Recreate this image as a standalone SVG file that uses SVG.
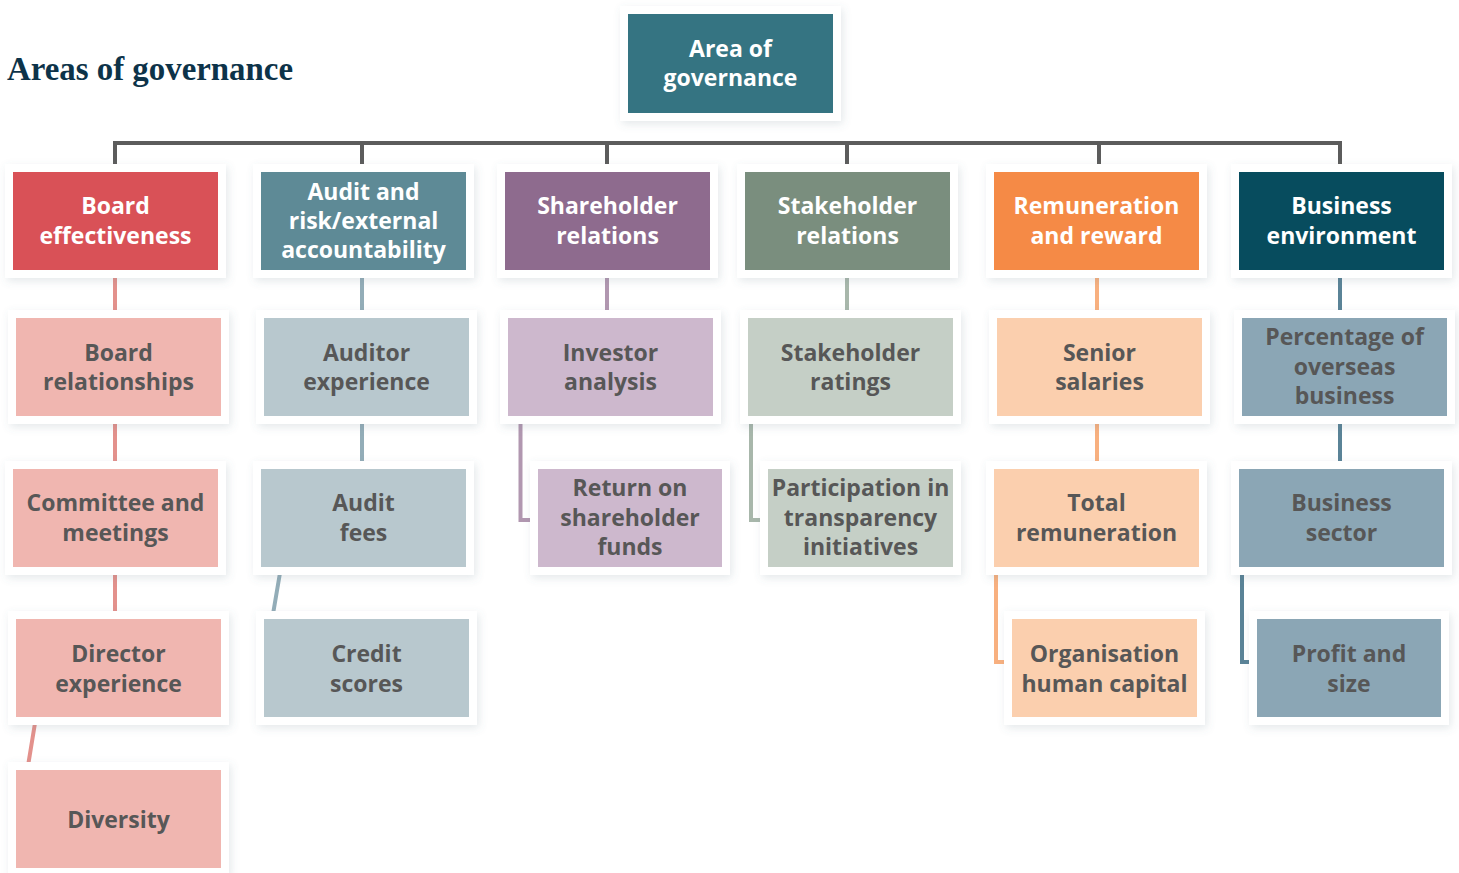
<svg xmlns="http://www.w3.org/2000/svg" width="1459" height="873" viewBox="0 0 1459 873">
  <defs>
    <filter id="shadow" x="-10%" y="-10%" width="125%" height="130%">
      <feDropShadow dx="2" dy="3" stdDeviation="4" flood-color="#5b6f80" flood-opacity="0.16"/>
    </filter>
    <style>
      .frame { fill: #ffffff; filter: url(#shadow); }
      .lbl { font-family: "Open Sans", "Liberation Sans", sans-serif; font-weight: 700; font-size: 23px; text-anchor: middle; }
      .light { fill: #ffffff; }
      .dark { fill: #575757; }
      .title { font-family: "Liberation Serif", "DejaVu Serif", serif; font-weight: 700; font-size: 33px; fill: #0d3349; }
      .c { fill: none; stroke-width: 4; }
      .trunk { stroke: #5c5c5c; }
      .c-board { stroke: #e3918c; }
      .c-audit { stroke: #93adb8; }
      .c-share { stroke: #b197b0; }
      .c-stake { stroke: #a8b7ab; }
      .c-rem { stroke: #f8b07f; }
      .c-bus { stroke: #5a8397; }
    </style>
  </defs>

  <rect width="1459" height="873" fill="#ffffff"/>

  <text class="title" x="7" y="80" textLength="286" lengthAdjust="spacingAndGlyphs">Areas of governance</text>

  <!-- connectors -->
  <g id="connectors">
    <path class="c trunk" d="M115,165 V143 H1340 V165 M362,143 V165 M607,143 V165 M847,143 V165 M1099,143 V165"/>
    <path class="c c-board" d="M115,270 V470 M115,567 V620 M36,717 L27,772"/>
    <path class="c c-audit" d="M362,270 V470 M281,567 L272,620"/>
    <path class="c c-share" d="M607,270 V318 M520.5,416 V520 H540"/>
    <path class="c c-stake" d="M847,270 V318 M751,416 V520 H770"/>
    <path class="c c-rem" d="M1097,270 V470 M996,567 V662 H1014"/>
    <path class="c c-bus" d="M1340,270 V470 M1242,567 V662 H1259"/>
  </g>

  <!-- root -->
  <g id="n-root">
    <rect class="frame" x="620" y="6" width="221" height="115"/>
    <rect x="628" y="14" width="205" height="99" fill="#357482"/>
    <text class="lbl light" x="730.5" y="57">Area of</text>
    <text class="lbl light" x="730.5" y="86">governance</text>
  </g>

  <!-- level 1 -->
  <g id="n-board">
    <rect class="frame" x="5" y="164" width="221" height="114"/>
    <rect x="13" y="172" width="205" height="98" fill="#d95157"/>
    <text class="lbl light" x="115.5" y="214">Board</text>
    <text class="lbl light" x="115.5" y="244">effectiveness</text>
  </g>
  <g id="n-audit">
    <rect class="frame" x="253" y="164" width="221" height="114"/>
    <rect x="261" y="172" width="205" height="98" fill="#5e8a96"/>
    <text class="lbl light" x="363.5" y="200">Audit and</text>
    <text class="lbl light" x="363.5" y="229">risk/external</text>
    <text class="lbl light" x="363.5" y="258">accountability</text>
  </g>
  <g id="n-share">
    <rect class="frame" x="497" y="164" width="221" height="114"/>
    <rect x="505" y="172" width="205" height="98" fill="#8e6b8e"/>
    <text class="lbl light" x="607.5" y="214">Shareholder</text>
    <text class="lbl light" x="607.5" y="244">relations</text>
  </g>
  <g id="n-stake">
    <rect class="frame" x="737" y="164" width="221" height="114"/>
    <rect x="745" y="172" width="205" height="98" fill="#7a8e7e"/>
    <text class="lbl light" x="847.5" y="214">Stakeholder</text>
    <text class="lbl light" x="847.5" y="244">relations</text>
  </g>
  <g id="n-rem">
    <rect class="frame" x="986" y="164" width="221" height="114"/>
    <rect x="994" y="172" width="205" height="98" fill="#f58a46"/>
    <text class="lbl light" x="1096.5" y="214">Remuneration</text>
    <text class="lbl light" x="1096.5" y="244">and reward</text>
  </g>
  <g id="n-bus">
    <rect class="frame" x="1231" y="164" width="221" height="114"/>
    <rect x="1239" y="172" width="205" height="98" fill="#074c5e"/>
    <text class="lbl light" x="1341.5" y="214">Business</text>
    <text class="lbl light" x="1341.5" y="244">environment</text>
  </g>

  <!-- level 2 -->
  <g id="n-board-rel">
    <rect class="frame" x="8" y="310" width="221" height="114"/>
    <rect x="16" y="318" width="205" height="98" fill="#f0b6b0"/>
    <text class="lbl dark" x="118.5" y="361">Board</text>
    <text class="lbl dark" x="118.5" y="390">relationships</text>
  </g>
  <g id="n-auditor-exp">
    <rect class="frame" x="256" y="310" width="221" height="114"/>
    <rect x="264" y="318" width="205" height="98" fill="#b8c8ce"/>
    <text class="lbl dark" x="366.5" y="361">Auditor</text>
    <text class="lbl dark" x="366.5" y="390">experience</text>
  </g>
  <g id="n-investor">
    <rect class="frame" x="500" y="310" width="221" height="114"/>
    <rect x="508" y="318" width="205" height="98" fill="#cdb8cd"/>
    <text class="lbl dark" x="610.5" y="361">Investor</text>
    <text class="lbl dark" x="610.5" y="390">analysis</text>
  </g>
  <g id="n-stake-ratings">
    <rect class="frame" x="740" y="310" width="221" height="114"/>
    <rect x="748" y="318" width="205" height="98" fill="#c5cfc6"/>
    <text class="lbl dark" x="850.5" y="361">Stakeholder</text>
    <text class="lbl dark" x="850.5" y="390">ratings</text>
  </g>
  <g id="n-salaries">
    <rect class="frame" x="989" y="310" width="221" height="114"/>
    <rect x="997" y="318" width="205" height="98" fill="#fbcfae"/>
    <text class="lbl dark" x="1099.5" y="361">Senior</text>
    <text class="lbl dark" x="1099.5" y="390">salaries</text>
  </g>
  <g id="n-overseas">
    <rect class="frame" x="1234" y="310" width="221" height="114"/>
    <rect x="1242" y="318" width="205" height="98" fill="#8ba6b5"/>
    <text class="lbl dark" x="1344.5" y="345">Percentage of</text>
    <text class="lbl dark" x="1344.5" y="375">overseas</text>
    <text class="lbl dark" x="1344.5" y="404">business</text>
  </g>

  <!-- level 3 -->
  <g id="n-committee">
    <rect class="frame" x="5" y="461" width="221" height="114"/>
    <rect x="13" y="469" width="205" height="98" fill="#f0b6b0"/>
    <text class="lbl dark" x="115.5" y="511">Committee and</text>
    <text class="lbl dark" x="115.5" y="541">meetings</text>
  </g>
  <g id="n-audit-fees">
    <rect class="frame" x="253" y="461" width="221" height="114"/>
    <rect x="261" y="469" width="205" height="98" fill="#b8c8ce"/>
    <text class="lbl dark" x="363.5" y="511">Audit</text>
    <text class="lbl dark" x="363.5" y="541">fees</text>
  </g>
  <g id="n-return">
    <rect class="frame" x="530" y="461" width="200" height="114"/>
    <rect x="538" y="469" width="184" height="98" fill="#cdb8cd"/>
    <text class="lbl dark" x="630" y="496">Return on</text>
    <text class="lbl dark" x="630" y="526">shareholder</text>
    <text class="lbl dark" x="630" y="555">funds</text>
  </g>
  <g id="n-participation">
    <rect class="frame" x="760" y="461" width="201" height="114"/>
    <rect x="768" y="469" width="185" height="98" fill="#c5cfc6"/>
    <text class="lbl dark" x="860.5" y="496">Participation in</text>
    <text class="lbl dark" x="860.5" y="526">transparency</text>
    <text class="lbl dark" x="860.5" y="555">initiatives</text>
  </g>
  <g id="n-total-rem">
    <rect class="frame" x="986" y="461" width="221" height="114"/>
    <rect x="994" y="469" width="205" height="98" fill="#fbcfae"/>
    <text class="lbl dark" x="1096.5" y="511">Total</text>
    <text class="lbl dark" x="1096.5" y="541">remuneration</text>
  </g>
  <g id="n-sector">
    <rect class="frame" x="1231" y="461" width="221" height="114"/>
    <rect x="1239" y="469" width="205" height="98" fill="#8ba6b5"/>
    <text class="lbl dark" x="1341.5" y="511">Business</text>
    <text class="lbl dark" x="1341.5" y="541">sector</text>
  </g>

  <!-- level 4 -->
  <g id="n-director">
    <rect class="frame" x="8" y="611" width="221" height="114"/>
    <rect x="16" y="619" width="205" height="98" fill="#f0b6b0"/>
    <text class="lbl dark" x="118.5" y="662">Director</text>
    <text class="lbl dark" x="118.5" y="692">experience</text>
  </g>
  <g id="n-credit">
    <rect class="frame" x="256" y="611" width="221" height="114"/>
    <rect x="264" y="619" width="205" height="98" fill="#b8c8ce"/>
    <text class="lbl dark" x="366.5" y="662">Credit</text>
    <text class="lbl dark" x="366.5" y="692">scores</text>
  </g>
  <g id="n-human-capital">
    <rect class="frame" x="1004" y="611" width="201" height="114"/>
    <rect x="1012" y="619" width="185" height="98" fill="#fbcfae"/>
    <text class="lbl dark" x="1104.5" y="662">Organisation</text>
    <text class="lbl dark" x="1104.5" y="692">human capital</text>
  </g>
  <g id="n-profit">
    <rect class="frame" x="1249" y="611" width="200" height="114"/>
    <rect x="1257" y="619" width="184" height="98" fill="#8ba6b5"/>
    <text class="lbl dark" x="1349" y="662">Profit and</text>
    <text class="lbl dark" x="1349" y="692">size</text>
  </g>

  <!-- level 5 -->
  <g id="n-diversity">
    <rect class="frame" x="8" y="762" width="221" height="114"/>
    <rect x="16" y="770" width="205" height="98" fill="#f0b6b0"/>
    <text class="lbl dark" x="118.5" y="828">Diversity</text>
  </g>
</svg>
